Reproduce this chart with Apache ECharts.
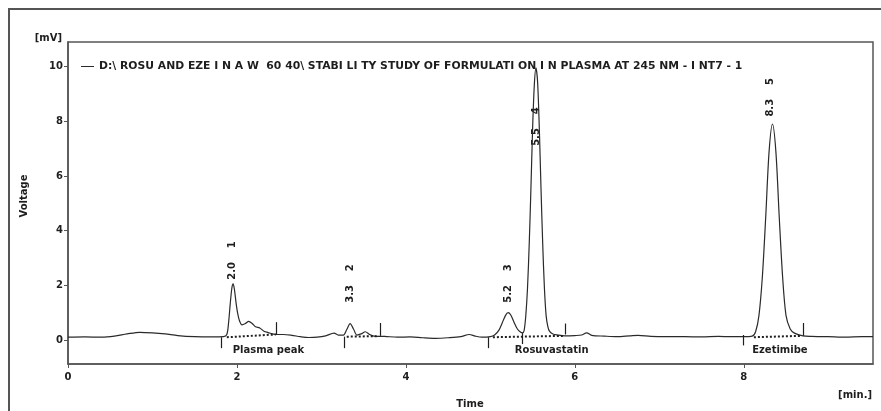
<!DOCTYPE html>
<html>
<head>
    <meta charset="UTF-8">
    <title>Chromatogram</title>
    <script type="text/javascript" src="https://cdn.jsdelivr.net/npm/echarts@6.0.0/dist/echarts.min.js"></script>
    <style type="text/css">
        html, body { margin: 0; padding: 0; background: #fff; }
        #chart { width: 881px; height: 411px; }
    </style>
</head>
<body>
<div id="chart"></div>
<script type="text/javascript">
    // trace: time [min.] and voltage [mV]
    var timePoints = [0, 0.2, 0.4, 0.55, 0.7, 0.85, 1.0, 1.15, 1.3, 1.5, 1.7, 1.84,
        1.88, 1.9, 1.92, 1.94, 1.955, 1.97, 1.99, 2.01, 2.03, 2.06, 2.1, 2.14, 2.18, 2.22, 2.27, 2.32, 2.37, 2.42, 2.48,
        2.55, 2.65, 2.75, 2.85, 2.95, 3.05, 3.15, 3.2, 3.26, 3.3, 3.34, 3.38, 3.42, 3.47, 3.52, 3.57, 3.62,
        3.75, 3.9, 4.05, 4.2, 4.35, 4.5, 4.65, 4.75, 4.82, 4.9, 5.0,
        5.05, 5.1, 5.14, 5.18, 5.21, 5.24, 5.28, 5.32, 5.36, 5.38,
        5.4, 5.42, 5.44, 5.46, 5.48, 5.5, 5.52, 5.54, 5.56, 5.58, 5.6, 5.62, 5.64, 5.66, 5.68, 5.7, 5.74, 5.8, 5.88,
        6.0, 6.08, 6.14, 6.2, 6.35, 6.5, 6.65, 6.75, 6.9, 7.1, 7.3, 7.5, 7.7, 7.85, 8.0, 8.1,
        8.14, 8.18, 8.22, 8.26, 8.3, 8.34, 8.38, 8.42, 8.46, 8.5, 8.55, 8.6, 8.7,
        8.8, 9.0, 9.2, 9.4, 9.53];
    var mvPoints = [0.1, 0.11, 0.1, 0.14, 0.22, 0.28, 0.26, 0.22, 0.16, 0.12, 0.11, 0.12,
        0.2, 0.6, 1.3, 1.9, 2.05, 1.85, 1.35, 0.95, 0.7, 0.55, 0.6, 0.68, 0.6, 0.48, 0.44, 0.32, 0.27, 0.22, 0.2,
        0.2, 0.17, 0.12, 0.09, 0.1, 0.15, 0.25, 0.18, 0.18, 0.38, 0.6, 0.4, 0.18, 0.22, 0.3, 0.2, 0.14,
        0.13, 0.1, 0.11, 0.08, 0.06, 0.08, 0.12, 0.2, 0.14, 0.1, 0.12,
        0.18, 0.35, 0.62, 0.9, 1.0, 0.92, 0.65, 0.4, 0.28, 0.26,
        0.35, 0.9, 1.9, 3.5, 5.5, 7.7, 9.3, 9.95, 9.4, 7.7, 5.5, 3.5, 1.9, 0.9, 0.5, 0.32, 0.22, 0.18, 0.15,
        0.16, 0.18, 0.26, 0.17, 0.14, 0.12, 0.15, 0.17, 0.13, 0.12, 0.12, 0.11, 0.13, 0.12, 0.12, 0.14,
        0.3, 0.9, 2.3, 4.5, 6.9, 7.9, 6.9, 4.5, 2.3, 0.9, 0.4, 0.25, 0.15,
        0.13, 0.12, 0.1, 0.12, 0.12];

    // integration markers: time, from, to
    var markerT = [1.82, 2.47, 3.27, 3.7, 4.97, 5.38, 5.89, 7.99, 8.7];
    var markerFrom = [0.1, 0.2, 0.12, 0.15, 0.1, 0.25, 0.2, 0.18, 0.15];
    var markerTo = [-0.3, 0.65, -0.3, 0.62, -0.3, -0.15, 0.6, -0.2, 0.62];

    // dotted baselines
    var baseStartT = [1.88, 3.3, 5.03, 8.12];
    var baseStartV = [0.1, 0.12, 0.1, 0.1];
    var baseEndT = [2.46, 3.68, 5.88, 8.68];
    var baseEndV = [0.2, 0.14, 0.15, 0.15];

    // peak annotations
    var peakT = [1.95, 3.34, 5.21, 5.55, 8.31];
    var peakLabelV = [2.2, 1.36, 1.36, 7.1, 8.17];
    var peakText = ['2.0    1', '3.3    2', '5.2    3', '5.5    4', '8.3    5'];

    var regionNames = ['Plasma peak', 'Rosuvastatin', 'Ezetimibe'];
    var regionT = [1.95, 5.29, 8.1];
    var regionV = -0.37;

    var xTicks = [0, 2, 4, 6, 8];
    var yTicks = [0, 2, 4, 6, 8, 10];

    var seriesName = 'D:\\ ROSU AND EZE I N A W  60 40\\ STABI LI TY STUDY OF FORMULATI ON I N PLASMA AT 245 NM - I NT7 - 1';

    var ink = '#1e1e1e';
    var font = '"DejaVu Sans", sans-serif';

    var trace = timePoints.map(function (t, i) { return [t, mvPoints[i]]; });

    var markLines = [];
    markerT.forEach(function (t, i) {
        markLines.push([{coord: [t, markerFrom[i]]}, {coord: [t, markerTo[i]]}]);
    });
    baseStartT.forEach(function (t, i) {
        markLines.push([
            {coord: [t, baseStartV[i]], lineStyle: {type: [2, 2], width: 2}},
            {coord: [baseEndT[i], baseEndV[i]]}
        ]);
    });

    var chart = echarts.init(document.getElementById('chart'), null, {renderer: 'canvas'});
    chart.setOption({
        animation: false,
        backgroundColor: '#fff',
        textStyle: {fontFamily: font},
        grid: {left: 68, right: 8, top: 42, bottom: 47, show: true, borderColor: '#555', borderWidth: 1.5},
        legend: {
            data: [seriesName],
            icon: 'rect',
            left: 76, top: 56,
            itemWidth: 13, itemHeight: 1, itemGap: 6,
            textStyle: {fontSize: 10.8, fontWeight: 'bold', color: ink, fontFamily: font}
        },
        graphic: [
            {type: 'rect', shape: {x: 9, y: 9, width: 900, height: 500}, style: {fill: 'none', stroke: '#555', lineWidth: 2}, silent: true},
            {type: 'text', x: 62, y: 38, style: {text: '[mV]', font: 'bold 10px ' + font, fill: ink, align: 'right', verticalAlign: 'middle'}},
            {type: 'text', x: 24, y: 196, rotation: Math.PI / 2, style: {text: 'Voltage', font: 'bold 10px ' + font, fill: ink, align: 'center', verticalAlign: 'middle'}},
            {type: 'text', x: 470, y: 404, style: {text: 'Time', font: 'bold 10px ' + font, fill: ink, align: 'center', verticalAlign: 'middle'}},
            {type: 'text', x: 872, y: 395, style: {text: '[min.]', font: 'bold 10px ' + font, fill: ink, align: 'right', verticalAlign: 'middle'}}
        ],
        xAxis: {
            type: 'value', min: 0, max: 9.53,
            axisLine: {show: true, onZero: false, lineStyle: {color: '#555', width: 1.5}},
            axisTick: {show: true, length: 4, customValues: xTicks, lineStyle: {color: '#555'}},
            axisLabel: {customValues: xTicks, fontSize: 10, fontWeight: 'bold', color: ink, margin: 8},
            splitLine: {show: false}
        },
        yAxis: {
            type: 'value', min: -0.88, max: 10.9,
            axisLine: {show: true, onZero: false, lineStyle: {color: '#555', width: 1.5}},
            axisTick: {show: true, length: 4, customValues: yTicks, lineStyle: {color: '#555'}},
            axisLabel: {customValues: yTicks, fontSize: 10, fontWeight: 'bold', color: ink, margin: 5},
            splitLine: {show: false}
        },
        series: [
            {
                name: seriesName,
                type: 'line',
                data: trace,
                symbol: 'none',
                smooth: 0.3,
                lineStyle: {color: '#2a2a2a', width: 1.2},
                itemStyle: {color: '#2a2a2a'},
                markLine: {
                    silent: true,
                    symbol: ['none', 'none'],
                    label: {show: false},
                    lineStyle: {color: '#1e1e1e', width: 1.2, type: 'solid'},
                    data: markLines
                }
            },
            {
                type: 'scatter',
                symbolSize: 0,
                silent: true,
                itemStyle: {opacity: 1},
                data: peakT.map(function (t, i) { return [t, peakLabelV[i], peakText[i]]; }),
                label: {
                    show: true, position: 'inside', rotate: 90,
                    align: 'left', verticalAlign: 'middle',
                    formatter: function (p) { return p.value[2]; },
                    fontSize: 10, fontWeight: 'bold', color: ink, textBorderWidth: 0, opacity: 1
                }
            },
            {
                type: 'scatter',
                symbolSize: 0,
                silent: true,
                itemStyle: {opacity: 1},
                data: regionT.map(function (t, i) { return [t, regionV, regionNames[i]]; }),
                label: {
                    show: true, position: 'inside',
                    align: 'left', verticalAlign: 'middle',
                    formatter: function (p) { return p.value[2]; },
                    fontSize: 10, fontWeight: 'bold', color: ink, textBorderWidth: 0, opacity: 1
                }
            }
        ]
    });
</script>
</body>
</html>
